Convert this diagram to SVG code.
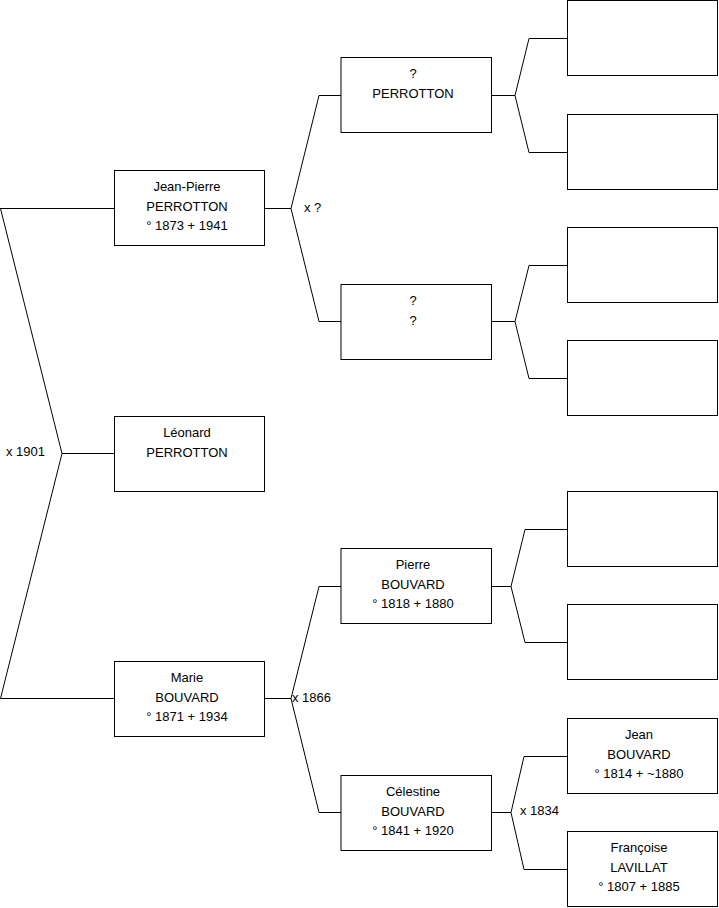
<svg xmlns="http://www.w3.org/2000/svg" width="719" height="908" viewBox="0 0 719 908">
<style>
.box{fill:#fff;stroke:#000;stroke-width:1}
.ln{fill:none;stroke:#000;stroke-width:1}
text{font-family:"Liberation Sans",Arial,sans-serif;font-size:13px;fill:#000}
.c{text-anchor:middle}
</style>
<rect width="719" height="908" fill="#fff"/>
<g id="connectors">
<path class="ln" d="M0,208.5 H114 M0.5,208.5 L62,453.5 H114 M62,453.5 L0.5,698.5 H114"/>
<path class="ln" d="M265,208.5 H291 L319,95.5 H341 M291,208.5 L319,321.5 H341"/>
<path class="ln" d="M265,698.5 H291 L319,586.5 H341 M291,698.5 L319,812.5 H341"/>
<path class="ln" d="M491,95.5 H515 L529,38.5 H567 M515,95.5 L529,152.5 H567"/>
<path class="ln" d="M491,321.5 H515 L529,265.5 H567 M515,321.5 L529,378.5 H567"/>
<path class="ln" d="M491,586.5 H511 L525,529.5 H567 M511,586.5 L525,642.5 H567"/>
<path class="ln" d="M491,812.5 H511 L524,756.5 H567 M511,812.5 L524,869.5 H567"/>
<text x="6" y="456">x 1901</text>
<text x="304" y="212">x ?</text>
<text x="292" y="702">x 1866</text>
<text x="520" y="815">x 1834</text>
</g>
<g id="jeanpierre"><rect class="box" x="114.5" y="170.5" width="150" height="75"/>
<text class="c" x="187" y="191">Jean-Pierre</text><text class="c" x="187" y="210.5">PERROTTON</text><text class="c" x="187" y="230">° 1873 + 1941</text></g>
<g id="leonard"><rect class="box" x="114.5" y="416.5" width="150" height="75"/>
<text class="c" x="187" y="437">Léonard</text><text class="c" x="187" y="456.5">PERROTTON</text></g>
<g id="marie"><rect class="box" x="114.5" y="661.5" width="150" height="75"/>
<text class="c" x="187" y="682">Marie</text><text class="c" x="187" y="701.5">BOUVARD</text><text class="c" x="187" y="721">° 1871 + 1934</text></g>
<g id="p_perrotton"><rect class="box" x="341" y="57.5" width="150.5" height="75"/>
<text class="c" x="413" y="78">?</text><text class="c" x="413" y="97.5">PERROTTON</text></g>
<g id="unknown"><rect class="box" x="341" y="284.5" width="150.5" height="75"/>
<text class="c" x="413" y="305">?</text><text class="c" x="413" y="324.5">?</text></g>
<g id="pierre"><rect class="box" x="341" y="548.5" width="150.5" height="75"/>
<text class="c" x="413" y="569">Pierre</text><text class="c" x="413" y="588.5">BOUVARD</text><text class="c" x="413" y="608">° 1818 + 1880</text></g>
<g id="celestine"><rect class="box" x="341" y="775.5" width="150.5" height="75"/>
<text class="c" x="413" y="796">Célestine</text><text class="c" x="413" y="815.5">BOUVARD</text><text class="c" x="413" y="835">° 1841 + 1920</text></g>
<g id="g1"><rect class="box" x="567.5" y="0.5" width="150" height="75"/></g>
<g id="g2"><rect class="box" x="567.5" y="114.5" width="150" height="75"/></g>
<g id="g3"><rect class="box" x="567.5" y="227.5" width="150" height="75"/></g>
<g id="g4"><rect class="box" x="567.5" y="340.5" width="150" height="75"/></g>
<g id="g5"><rect class="box" x="567.5" y="491.5" width="150" height="75"/></g>
<g id="g6"><rect class="box" x="567.5" y="604.5" width="150" height="75"/></g>
<g id="jean"><rect class="box" x="567.5" y="718.5" width="150" height="75"/>
<text class="c" x="639" y="739">Jean</text><text class="c" x="639" y="758.5">BOUVARD</text><text class="c" x="639" y="778">° 1814 + ~1880</text></g>
<g id="francoise"><rect class="box" x="567.5" y="831.5" width="150" height="75"/>
<text class="c" x="639" y="852">Françoise</text><text class="c" x="639" y="871.5">LAVILLAT</text><text class="c" x="639" y="891">° 1807 + 1885</text></g>
</svg>
